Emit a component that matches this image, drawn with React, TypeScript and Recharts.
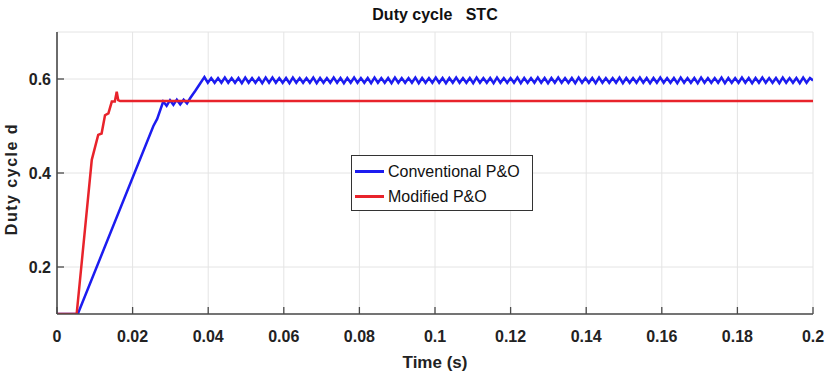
import React from 'react';
import { LineChart, Line, XAxis, YAxis, CartesianGrid } from 'recharts';

// time in ms, duty cycle values
const redTimeMs = [0, 5.2, 7.4, 9.2, 10.9, 11.8, 12.7, 13.6, 14.5, 15.3, 15.8, 16.2, 16.7, 200];
const redDuty = [0.1, 0.1, 0.28, 0.428, 0.481, 0.484, 0.523, 0.527, 0.552, 0.552, 0.573, 0.555, 0.553, 0.553];

const blueTimeMs = [
  0, 5.5, 25.5, 26.5, 28.1, 29.0, 29.9, 30.8, 31.7, 32.6, 33.5, 34.4, 35.3, 36.6, 38.0,
  39.0, 39.9, 40.8, 41.7, 42.6, 43.5, 44.4, 45.3, 46.2, 47.1,
  48.0, 48.9, 49.8, 50.7, 51.6, 52.5, 53.4, 54.3, 55.2, 56.1,
  57.0, 57.9, 58.8, 59.7, 60.6, 61.5, 62.4, 63.3, 64.2, 65.1,
  66.0, 66.9, 67.8, 68.7, 69.6, 70.5, 71.4, 72.3, 73.2, 74.1,
  75.0, 75.9, 76.8, 77.7, 78.6, 79.5, 80.4, 81.3, 82.2, 83.1,
  84.0, 84.9, 85.8, 86.7, 87.6, 88.5, 89.4, 90.3, 91.2, 92.1,
  93.0, 93.9, 94.8, 95.7, 96.6, 97.5, 98.4, 99.3, 100.2, 101.1,
  102.0, 102.9, 103.8, 104.7, 105.6, 106.5, 107.4, 108.3, 109.2, 110.1,
  111.0, 111.9, 112.8, 113.7, 114.6, 115.5, 116.4, 117.3, 118.2, 119.1,
  120.0, 120.9, 121.8, 122.7, 123.6, 124.5, 125.4, 126.3, 127.2, 128.1,
  129.0, 129.9, 130.8, 131.7, 132.6, 133.5, 134.4, 135.3, 136.2, 137.1,
  138.0, 138.9, 139.8, 140.7, 141.6, 142.5, 143.4, 144.3, 145.2, 146.1,
  147.0, 147.9, 148.8, 149.7, 150.6, 151.5, 152.4, 153.3, 154.2, 155.1,
  156.0, 156.9, 157.8, 158.7, 159.6, 160.5, 161.4, 162.3, 163.2, 164.1,
  165.0, 165.9, 166.8, 167.7, 168.6, 169.5, 170.4, 171.3, 172.2, 173.1,
  174.0, 174.9, 175.8, 176.7, 177.6, 178.5, 179.4, 180.3, 181.2, 182.1,
  183.0, 183.9, 184.8, 185.7, 186.6, 187.5, 188.4, 189.3, 190.2, 191.1,
  192.0, 192.9, 193.8, 194.7, 195.6, 196.5, 197.4, 198.3, 199.2, 200.0,
];
const blueDuty = [
  0.1, 0.1, 0.5, 0.515, 0.552, 0.543, 0.555, 0.545, 0.556, 0.546, 0.556, 0.548, 0.56, 0.575, 0.592,
  0.604, 0.592, 0.602, 0.592, 0.602, 0.592, 0.603, 0.592, 0.602, 0.592,
  0.602, 0.591, 0.603, 0.592, 0.602, 0.592, 0.602, 0.591, 0.603, 0.592,
  0.603, 0.592, 0.602, 0.592, 0.602, 0.591, 0.603, 0.592, 0.602, 0.592,
  0.602, 0.592, 0.603, 0.591, 0.602, 0.592, 0.602, 0.592, 0.603, 0.592,
  0.602, 0.591, 0.602, 0.592, 0.603, 0.592, 0.602, 0.592, 0.602, 0.591,
  0.603, 0.592, 0.602, 0.592, 0.602, 0.591, 0.603, 0.592, 0.602, 0.592,
  0.602, 0.592, 0.603, 0.591, 0.602, 0.592, 0.602, 0.592, 0.603, 0.592,
  0.602, 0.591, 0.602, 0.592, 0.603, 0.592, 0.602, 0.592, 0.602, 0.591,
  0.603, 0.592, 0.602, 0.592, 0.602, 0.591, 0.603, 0.592, 0.602, 0.592,
  0.602, 0.592, 0.603, 0.591, 0.602, 0.592, 0.602, 0.592, 0.603, 0.592,
  0.602, 0.591, 0.602, 0.592, 0.603, 0.592, 0.602, 0.592, 0.602, 0.591,
  0.603, 0.592, 0.602, 0.592, 0.602, 0.591, 0.603, 0.592, 0.602, 0.592,
  0.602, 0.592, 0.603, 0.591, 0.602, 0.592, 0.602, 0.592, 0.603, 0.592,
  0.602, 0.591, 0.602, 0.592, 0.603, 0.592, 0.602, 0.592, 0.602, 0.591,
  0.603, 0.592, 0.602, 0.592, 0.602, 0.591, 0.603, 0.592, 0.602, 0.592,
  0.602, 0.592, 0.603, 0.591, 0.602, 0.592, 0.602, 0.592, 0.603, 0.592,
  0.602, 0.591, 0.602, 0.592, 0.603, 0.592, 0.602, 0.592, 0.602, 0.591,
  0.603, 0.592, 0.602, 0.592, 0.602, 0.591, 0.603, 0.592, 0.602, 0.597,
];

const xTicks = [0, 0.02, 0.04, 0.06, 0.08, 0.1, 0.12, 0.14, 0.16, 0.18, 0.2];
const yTicks = [0.2, 0.4, 0.6];
const seriesNames = ['Conventional P&O', 'Modified P&O'];
const seriesColors = ['#1c1cf0', '#e8232b'];

const FONT = 'Arial, "Liberation Sans", Helvetica, sans-serif';
const AXIS = '#4a4a4a';

const toPoints = (ts: number[], ds: number[]) => ts.map((t, i) => ({ t: t / 1000, d: ds[i] }));
const blueData = toPoints(blueTimeMs, blueDuty);
const redData = toPoints(redTimeMs, redDuty);

const BottomTick = (props: any) => {
  const { x, y, payload } = props;
  return (
    <g>
      <line x1={x} y1={y} x2={x} y2={y - 7} stroke={AXIS} strokeWidth={1.3} />
      <text x={x} y={y + 28} textAnchor="middle" fontFamily={FONT} fontWeight="bold" fontSize={16} fill="#222">
        {String(payload.value)}
      </text>
    </g>
  );
};

const TopTick = (props: any) => {
  const { x, y } = props;
  return <line x1={x} y1={y} x2={x} y2={y + 7} stroke={AXIS} strokeWidth={1.3} />;
};

const LeftTick = (props: any) => {
  const { x, y, payload } = props;
  return (
    <g>
      <line x1={x} y1={y} x2={x + 7} y2={y} stroke={AXIS} strokeWidth={1.3} />
      <text x={x - 6} y={y + 6} textAnchor="end" fontFamily={FONT} fontWeight="bold" fontSize={16} fill="#222">
        {String(payload.value)}
      </text>
    </g>
  );
};

export default function App() {
  return (
    <div style={{ position: 'absolute', left: 0, top: 0, width: 830, height: 379, background: '#fff', fontFamily: FONT }}>
      <div style={{ position: 'absolute', left: 0, width: 870, top: 6, textAlign: 'center', fontWeight: 'bold', fontSize: 16, whiteSpace: 'pre', color: '#111' }}>
        {'Duty cycle   STC'}
      </div>
      <LineChart width={830} height={379} margin={{ top: 32, right: 17, bottom: 15, left: 7 }}>
        <CartesianGrid xAxisId="b" yAxisId="l" stroke="#e4e4e4" strokeWidth={1} />
        <XAxis
          xAxisId="b"
          dataKey="t"
          type="number"
          domain={[0, 0.2]}
          ticks={xTicks}
          allowDataOverflow
          height={50}
          tickSize={0}
          tickMargin={0}
          tickLine={false}
          tick={<BottomTick />}
          axisLine={{ stroke: AXIS, strokeWidth: 1.6 }}
        />
        <XAxis
          xAxisId="top"
          orientation="top"
          dataKey="t"
          type="number"
          domain={[0, 0.2]}
          ticks={xTicks}
          height={0}
          tickSize={0}
          tickMargin={0}
          tickLine={false}
          tick={<TopTick />}
          axisLine={{ stroke: AXIS, strokeWidth: 1.6 }}
        />
        <YAxis
          yAxisId="l"
          type="number"
          domain={[0.1, 0.7]}
          ticks={yTicks}
          allowDataOverflow
          width={50}
          tickSize={0}
          tickMargin={0}
          tickLine={false}
          tick={<LeftTick />}
          axisLine={{ stroke: AXIS, strokeWidth: 1.6 }}
        />
        <YAxis
          yAxisId="r"
          orientation="right"
          type="number"
          domain={[0.1, 0.7]}
          width={0}
          tick={false}
          tickLine={false}
          axisLine={{ stroke: AXIS, strokeWidth: 1.6 }}
        />
        <Line
          xAxisId="b"
          yAxisId="l"
          data={blueData}
          dataKey="d"
          name={seriesNames[0]}
          type="linear"
          stroke={seriesColors[0]}
          strokeWidth={2.5}
          dot={false}
          isAnimationActive={false}
        />
        <Line
          xAxisId="b"
          yAxisId="l"
          data={redData}
          dataKey="d"
          name={seriesNames[1]}
          type="linear"
          stroke={seriesColors[1]}
          strokeWidth={2.5}
          dot={false}
          isAnimationActive={false}
        />
      </LineChart>
      <div style={{ position: 'absolute', left: 0, width: 870, top: 353, textAlign: 'center', fontWeight: 'bold', fontSize: 17, color: '#222' }}>
        Time (s)
      </div>
      <div
        style={{
          position: 'absolute',
          left: 12,
          top: 179,
          transform: 'translate(-50%, -50%) rotate(-90deg)',
          whiteSpace: 'nowrap',
          fontWeight: 'bold',
          fontSize: 16,
          letterSpacing: 1.5,
          color: '#222',
        }}
      >
        Duty cycle d
      </div>
      <div
        style={{
          position: 'absolute',
          left: 351,
          top: 155,
          width: 182,
          height: 56,
          background: '#fff',
          border: '1px solid #333',
          boxSizing: 'border-box',
          paddingTop: 3,
        }}
      >
        {seriesNames.map((n, i) => (
          <div key={n} style={{ display: 'flex', alignItems: 'center', height: 25, paddingLeft: 3 }}>
            <div style={{ width: 29, height: 3, background: seriesColors[i], marginRight: 4 }} />
            <span style={{ fontSize: 16, color: '#111' }}>{n}</span>
          </div>
        ))}
      </div>
    </div>
  );
}
